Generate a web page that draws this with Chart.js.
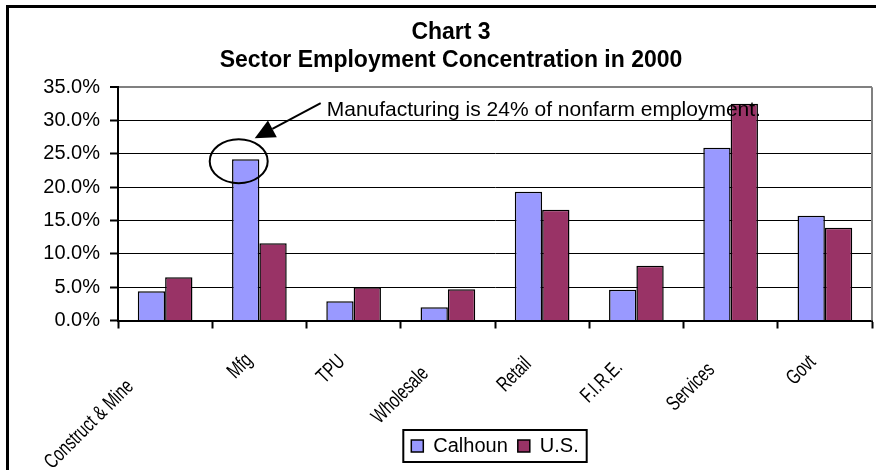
<!DOCTYPE html>
<html>
<head>
<meta charset="utf-8">
<script src="https://cdn.jsdelivr.net/npm/chart.js@4.4.1/dist/chart.umd.min.js"></script>
<style>
  html, body { margin: 0; padding: 0; background: #fff; }
  #wrap { width: 880px; height: 470px; }
</style>
</head>
<body>
<div id="wrap"><canvas id="chart" width="880" height="470"></canvas></div>
<script>
const categories = ['Construct & Mine', 'Mfg', 'TPU', 'Wholesale', 'Retail', 'F.I.R.E.', 'Services', 'Govt'];
const calhoun = [4.4, 24.2, 2.9, 2.0, 19.3, 4.6, 25.9, 15.7];
const us = [6.5, 11.6, 5.0, 4.7, 16.6, 8.2, 32.5, 13.9];
const yTicks = [0, 5, 10, 15, 20, 25, 30, 35];
const titleLines = ['Chart 3', 'Sector Employment Concentration in 2000'];
const note = 'Manufacturing is 24% of nonfarm employment.';

const FONT = '"Liberation Sans", Arial, sans-serif';
Chart.defaults.color = '#000';
Chart.defaults.font.family = FONT;

// frame, plot border, rotated labels, callout, legend box
const decor = {
  id: 'decor',
  beforeDraw(chart) {
    const ctx = chart.ctx;
    ctx.save();
    ctx.fillStyle = '#fff';
    ctx.fillRect(0, 0, chart.width, chart.height);
    ctx.restore();
  },
  beforeDatasetsDraw(chart) {
    const { ctx, chartArea: a } = chart;
    ctx.save();
    ctx.strokeStyle = '#808080';
    ctx.lineWidth = 2;
    ctx.beginPath();
    ctx.moveTo(a.right, a.top);
    ctx.lineTo(a.right, a.bottom);
    ctx.stroke();
    ctx.restore();
  },
  afterDatasetsDraw(chart) {
    const ctx = chart.ctx;
    const bar = chart.getDatasetMeta(0).data[1];
    const bx = bar.x, by = bar.y;
    ctx.save();
    ctx.strokeStyle = '#000';
    ctx.fillStyle = '#000';
    ctx.lineWidth = 2;
    // circle round the Mfg bar top
    ctx.beginPath();
    ctx.ellipse(bx - 7, by + 2, 29, 22, 0, 0, Math.PI * 2);
    ctx.stroke();
    // arrow
    const x0 = bx + 75, y0 = by - 56, x1 = bx + 9, y1 = by - 21;
    const dx = x1 - x0, dy = y1 - y0, len = Math.hypot(dx, dy);
    const ux = dx / len, uy = dy / len;
    const hl = 20, hw = 9.5;
    ctx.beginPath();
    ctx.moveTo(x0, y0);
    ctx.lineTo(x1 - ux * hl, y1 - uy * hl);
    ctx.stroke();
    ctx.beginPath();
    ctx.moveTo(x1, y1);
    ctx.lineTo(x1 - ux * hl - uy * hw, y1 - uy * hl + ux * hw);
    ctx.lineTo(x1 - ux * hl + uy * hw, y1 - uy * hl - ux * hw);
    ctx.closePath();
    ctx.fill();
    ctx.font = '21px ' + FONT;
    ctx.textAlign = 'left';
    ctx.textBaseline = 'middle';
    ctx.fillText(note, bx + 81, by - 49);
    ctx.restore();
  },
  afterDraw(chart) {
    const ctx = chart.ctx;
    const xs = chart.scales.x;
    ctx.save();
    ctx.fillStyle = '#000';
    ctx.font = '21px ' + FONT;
    const sq = 0.72;
    chart.data.labels.forEach((lab, i) => {
      const w = ctx.measureText(lab).width * sq;
      const cx = xs.getPixelForTick(i);
      ctx.save();
      ctx.translate(cx - 11 - 0.27 * w, xs.top + 22 + 0.29 * w);
      ctx.rotate(-Math.PI / 4);
      ctx.scale(sq, 1);
      ctx.textAlign = 'right';
      ctx.textBaseline = 'top';
      ctx.fillText(lab, 0, 0);
      ctx.restore();
    });
    // legend frame
    const hb = chart.legend.legendHitBoxes;
    if (hb && hb.length) {
      const f = hb[0], l = hb[hb.length - 1];
      ctx.strokeStyle = '#000';
      ctx.lineWidth = 2;
      ctx.strokeRect(f.left - 8, f.top - 6, l.left + l.width - f.left + 16, f.height + 12);
    }
    // outer frame (top and left edges)
    ctx.lineWidth = 3;
    ctx.beginPath();
    ctx.moveTo(7.5, chart.height);
    ctx.lineTo(7.5, 6.5);
    ctx.lineTo(876, 6.5);
    ctx.stroke();
    ctx.restore();
  }
};

new Chart(document.getElementById('chart'), {
  type: 'bar',
  data: {
    labels: categories,
    datasets: [
      { label: 'Calhoun', data: calhoun, backgroundColor: '#9999FF', borderColor: '#000', borderWidth: 1.5 },
      { label: 'U.S.', data: us, backgroundColor: '#993366', borderColor: '#000', borderWidth: 1.5 }
    ]
  },
  options: {
    responsive: false,
    animation: false,
    events: [],
    layout: { padding: { left: 30, right: 8, top: 0, bottom: 4 } },
    datasets: { bar: { categoryPercentage: 0.58, barPercentage: 1 } },
    plugins: {
      title: {
        display: true,
        text: titleLines,
        font: { size: 23, weight: 'bold' },
        lineHeight: 1.2,
        padding: { top: 19, bottom: 13 }
      },
      legend: {
        position: 'bottom',
        fullSize: false,
        labels: { boxWidth: 12, boxHeight: 12, padding: 10, font: { size: 20 } }
      },
      tooltip: { enabled: false }
    },
    scales: {
      x: {
        grid: { display: true, drawOnChartArea: false, drawTicks: true, tickLength: 8, tickColor: '#000', tickWidth: 2, offset: true },
        border: { color: '#000', width: 2 },
        ticks: { display: false },
        afterFit(s) { s.height = 105.5; }
      },
      y: {
        min: 0,
        max: 35,
        afterBuildTicks(s) { s.ticks = yTicks.map(v => ({ value: v })); },
        ticks: {
          padding: 10,
          font: { size: 20 },
          callback: v => v.toFixed(1) + '%'
        },
        grid: {
          color: c => (c.tick && c.tick.value === 35 ? '#808080' : '#000'),
          lineWidth: c => (c.tick && c.tick.value === 35 ? 2 : 1),
          tickColor: '#000',
          tickWidth: 2,
          tickLength: 8
        },
        border: { color: '#000', width: 2 },
        afterFit(s) { s.width = 88; }
      }
    }
  },
  plugins: [decor]
});
</script>
</body>
</html>
